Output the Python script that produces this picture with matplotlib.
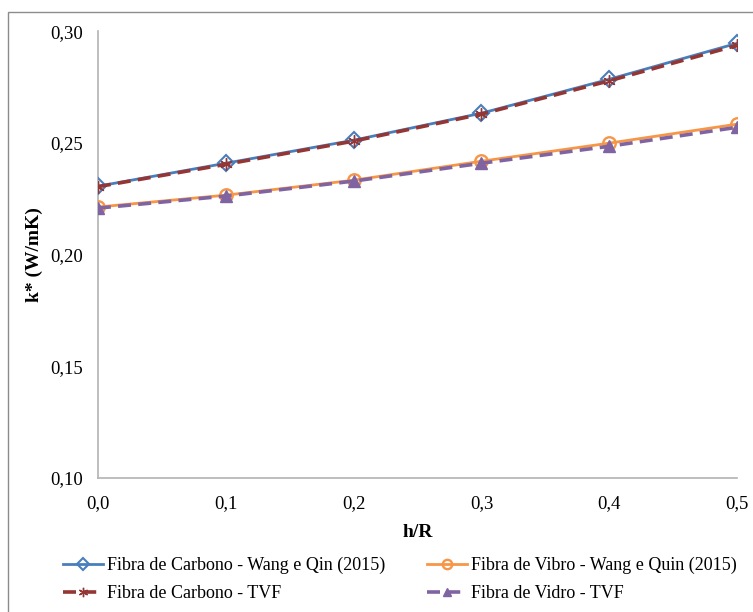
import matplotlib.pyplot as plt
from matplotlib.patches import Rectangle
from matplotlib.ticker import FuncFormatter

plt.rcParams['font.family'] = ['Liberation Serif', 'DejaVu Serif']

# h/R ratio and effective conductivity k* (W/mK)
h_r = [0.0, 0.1, 0.2, 0.3, 0.4, 0.5]
carbono_wang = [0.2306, 0.2409, 0.2512, 0.2633, 0.2785, 0.2946]
carbono_tvf = [0.2304, 0.2404, 0.2508, 0.2629, 0.2778, 0.2937]
vidro_wang = [0.2213, 0.2266, 0.2333, 0.2418, 0.2499, 0.2584]
vidro_tvf = [0.2208, 0.2262, 0.2329, 0.2409, 0.2485, 0.2570]

labels = ['Fibra de Carbono - Wang e Qin (2015)',
          'Fibra de Carbono - TVF',
          'Fibra de Vibro - Wang e Quin (2015)',
          'Fibra de Vidro - TVF']

fig = plt.figure(figsize=(7.53, 6.12), dpi=100)
# chart area border (runs off the right/bottom edges)
fig.patches.append(Rectangle((7.5 / 753, -0.1), 1.2, 1 - 12 / 612 + 0.1,
                             transform=fig.transFigure, fill=False,
                             edgecolor='#8c8c8c', linewidth=1.0))
ax = fig.add_axes([0.130, 0.219, 0.849, 0.730])

l1, = ax.plot(h_r, carbono_wang, color='#4a7ebb', lw=2.0, marker='D', ms=8,
              mfc='none', mec='#4a7ebb', mew=1.5, zorder=3)
l3, = ax.plot(h_r, vidro_wang, color='#f79646', lw=2.0, marker='o', ms=9,
              mfc='none', mec='#f79646', mew=1.7, zorder=3)
l2, = ax.plot(h_r, carbono_tvf, color='#943634', lw=2.6, ls=(0, (3.6, 2)),
              marker=(6, 2, 0), ms=9, mec='#943634', mew=1.0, zorder=4)
l4, = ax.plot(h_r, vidro_tvf, color='#8064a2', lw=2.6, ls=(0, (3.6, 2)),
              marker='^', ms=8, mfc='#8064a2', mec='#8064a2', zorder=4)

ax.set_xlim(0, 0.5)
ax.set_ylim(0.10, 0.30)
ax.set_xticks(h_r)
ax.set_yticks([0.10, 0.15, 0.20, 0.25, 0.30])
ax.xaxis.set_major_formatter(FuncFormatter(lambda v, p: f'{v:.1f}'.replace('.', ',')))
ax.yaxis.set_major_formatter(FuncFormatter(lambda v, p: f'{v:.2f}'.replace('.', ',')))
ax.tick_params(length=0, labelsize=13.5)
ax.tick_params(axis='y', pad=10.5)
ax.tick_params(axis='x', pad=12)
for s in ['top', 'right']:
    ax.spines[s].set_visible(False)
for s in ['left', 'bottom']:
    ax.spines[s].set_color('#b3b3b3')
    ax.spines[s].set_linewidth(1.2)

ax.set_ylabel('k* (W/mK)', fontsize=14, fontweight='bold', labelpad=5.5)
ax.set_xlabel('h/R', fontsize=14, fontweight='bold', labelpad=9)

fig.legend([l1, l2, l3, l4], labels, ncol=2, loc='upper left',
           bbox_to_anchor=(63 / 753, 1 - 557 / 612), frameon=False,
           fontsize=13, borderpad=0, borderaxespad=0,
           handlelength=2.2, columnspacing=2.3, labelspacing=0.6,
           handletextpad=0.25, markerscale=0.75)

fig.savefig('out.png', dpi=100)
